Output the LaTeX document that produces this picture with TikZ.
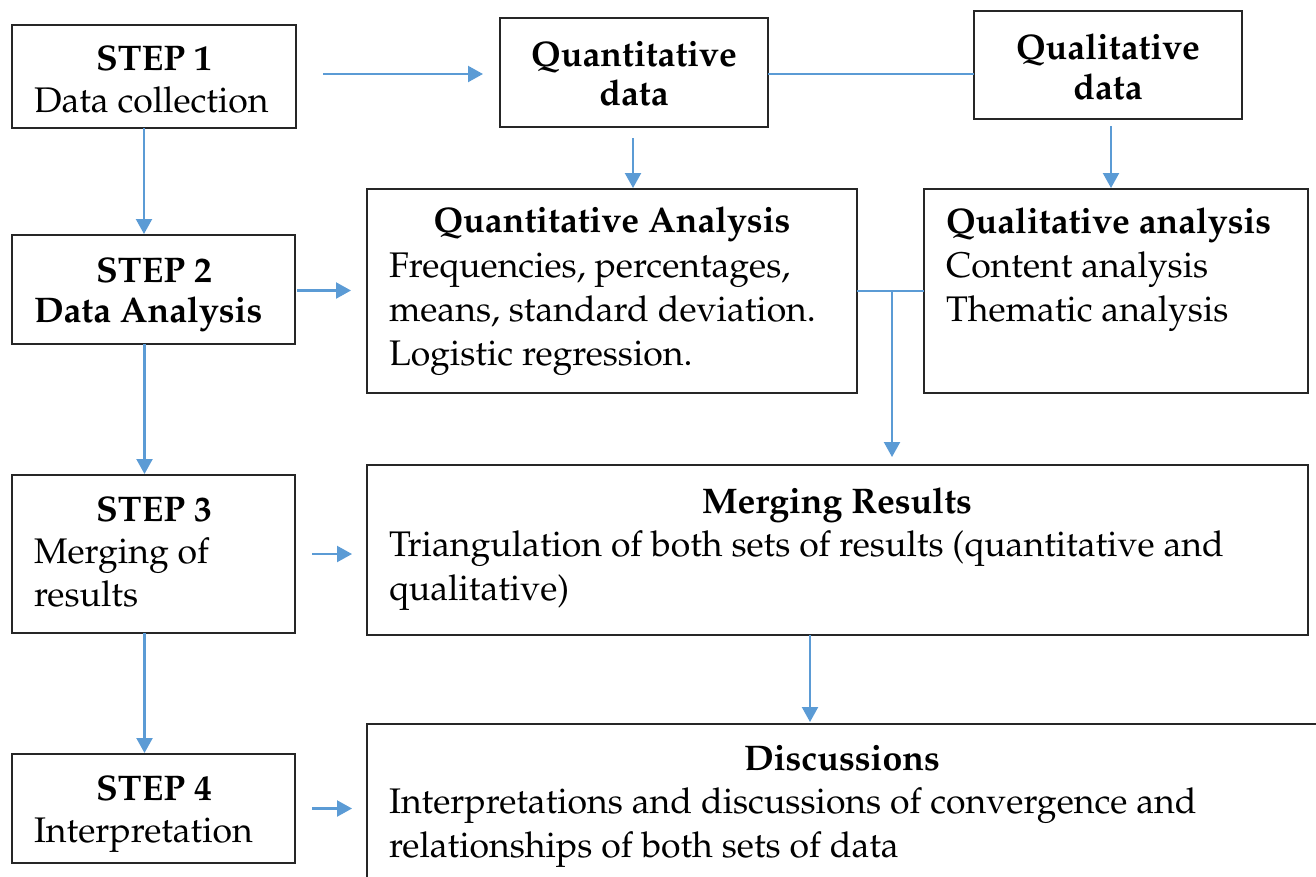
\documentclass[tikz,border=0pt]{standalone}
\usepackage[T1]{fontenc}
\usepackage{mathpazo}
\usetikzlibrary{arrows.meta}
\definecolor{lnblue}{RGB}{91,155,213}
\tikzset{
  box/.style={draw=black!85, line width=1.6pt, rectangle, inner sep=0pt, outer sep=0pt},
  txt/.style={inner sep=0pt, outer sep=0pt, font=\fontsize{35.6}{42}\selectfont},
  ttl/.style={txt, font=\fontsize{35.6}{42}\selectfont\bfseries},
  conn/.style={draw=lnblue, line width=2.2pt},
  arr/.style={conn, -{Triangle[length=15pt,width=16pt]}},
}
\newcommand{\mkbox}[5]{%
  \node[box, minimum width={(#4-#2)*1pt}, minimum height={(#5-#3)*1pt}] (#1) at ({(#2+#4)/2},{(#3+#5)/2}) {};}
\begin{document}
\begin{tikzpicture}[x=1pt,y=-1pt]
\useasboundingbox (0,0) rectangle (1316,876);
\begin{scope}
\clip (0,0) rectangle (1316,876);
% boxes
\mkbox{s1}{12}{25}{296}{128}
\mkbox{s2}{12}{235}{295}{344}
\mkbox{s3}{12}{475}{295}{633}
\mkbox{s4}{12}{754}{295}{863}
\mkbox{qd}{500}{18}{768}{127}
\mkbox{qld}{974}{11}{1242}{119}
\mkbox{qa}{367}{189}{857}{393}
\mkbox{qla}{924}{189}{1308}{393}
\mkbox{mr}{367}{465}{1308}{635}
\mkbox{ds}{367}{724}{1330}{900}
\end{scope}
% texts
\node[ttl, anchor=base] (s1a) at (154,70) {STEP 1};
\node[txt, anchor=base west] (s1b) at (34,112) {Data collection};
\node[ttl, anchor=base] (s2a) at (154,282) {STEP 2};
\node[ttl, anchor=base west] (s2b) at (34,322) {Data Analysis};
\node[ttl, anchor=base] (s3a) at (154,521) {STEP 3};
\node[txt, anchor=base west] (s3b) at (34,563) {Merging of};
\node[txt, anchor=base west] (s3c) at (34,606) {results};
\node[ttl, anchor=base] (s4a) at (154,800) {STEP 4};
\node[txt, anchor=base west] (s4b) at (34,842) {Interpretation};
\node[ttl, anchor=base] (qda) at (634,66) {Quantitative};
\node[ttl, anchor=base] (qdb) at (634,105) {data};
\node[ttl, anchor=base] (qlda) at (1108,59) {Qualitative};
\node[ttl, anchor=base] (qldb) at (1108,99) {data};
\node[ttl, anchor=base] (qaa) at (612,232) {Quantitative Analysis};
\node[txt, anchor=base west] (qab) at (389,277) {Frequencies, percentages,};
\node[txt, anchor=base west] (qac) at (389,321) {means, standard deviation.};
\node[txt, anchor=base west] (qad) at (389,365) {Logistic regression.};
\node[ttl, anchor=base west] (qlaa) at (946,233) {Qualitative analysis};
\node[txt, anchor=base west] (qlab) at (946,277) {Content analysis};
\node[txt, anchor=base west] (qlac) at (946,321) {Thematic analysis};
\node[ttl, anchor=base] (mra) at (837,513) {Merging Results};
\node[txt, anchor=base west] (mrb) at (389,556) {Triangulation of both sets of results (quantitative and};
\node[txt, anchor=base west] (mrc) at (389,600) {qualitative)};
\node[ttl, anchor=base] (dsa) at (842,770) {Discussions};
\node[txt, anchor=base west] (dsb) at (389,813) {Interpretations and discussions of convergence and};
\node[txt, anchor=base west] (dsc) at (389,857) {relationships of both sets of data};
% connectors
\draw[arr, shorten <=27pt, shorten >=17pt] ([yshift=2.5pt]s1.east) -- ([yshift=2.5pt]s1.east -| qd.west);
\draw[conn] (qd.east |- 0,74) -- (qld.west |- 0,74);
\draw[arr, shorten <=11pt, shorten >=1pt] ([xshift=-1pt]qd.south) -- ([xshift=-1pt]qd.south |- qa.north);
\draw[arr, shorten <=7pt, shorten >=1pt] ([xshift=3pt]qld.south) -- ([xshift=3pt]qld.south |- qla.north);
\draw[arr, shorten >=1pt] ([xshift=-10pt]s1.south) -- ([xshift=-10pt]s1.south |- s2.north);
\draw[arr, shorten >=1pt] ([xshift=-9pt]s2.south) -- ([xshift=-9pt]s2.south |- s3.north);
\draw[arr, shorten >=1pt] ([xshift=-9pt]s3.south) -- ([xshift=-9pt]s3.south |- s4.north);
\draw[arr, shorten <=2pt, shorten >=16pt] ([yshift=-1pt]s2.east) -- ([yshift=-1pt]s2.east -| qa.west);
\draw[arr, shorten <=17pt, shorten >=15pt] (s3.east) -- (s3.east -| mr.west);
\draw[arr, shorten <=17pt, shorten >=15pt] (s4.east) -- (s4.east -| ds.west);
\draw[conn] (qa.east) -- (qla.west);
\coordinate (j) at (892,291);
\draw[arr, shorten >=8pt] (j) -- (j |- mr.north);
\draw[arr, shorten >=2pt] (mr.south -| 810,0) -- (ds.north -| 810,0);
\end{tikzpicture}
\end{document}
